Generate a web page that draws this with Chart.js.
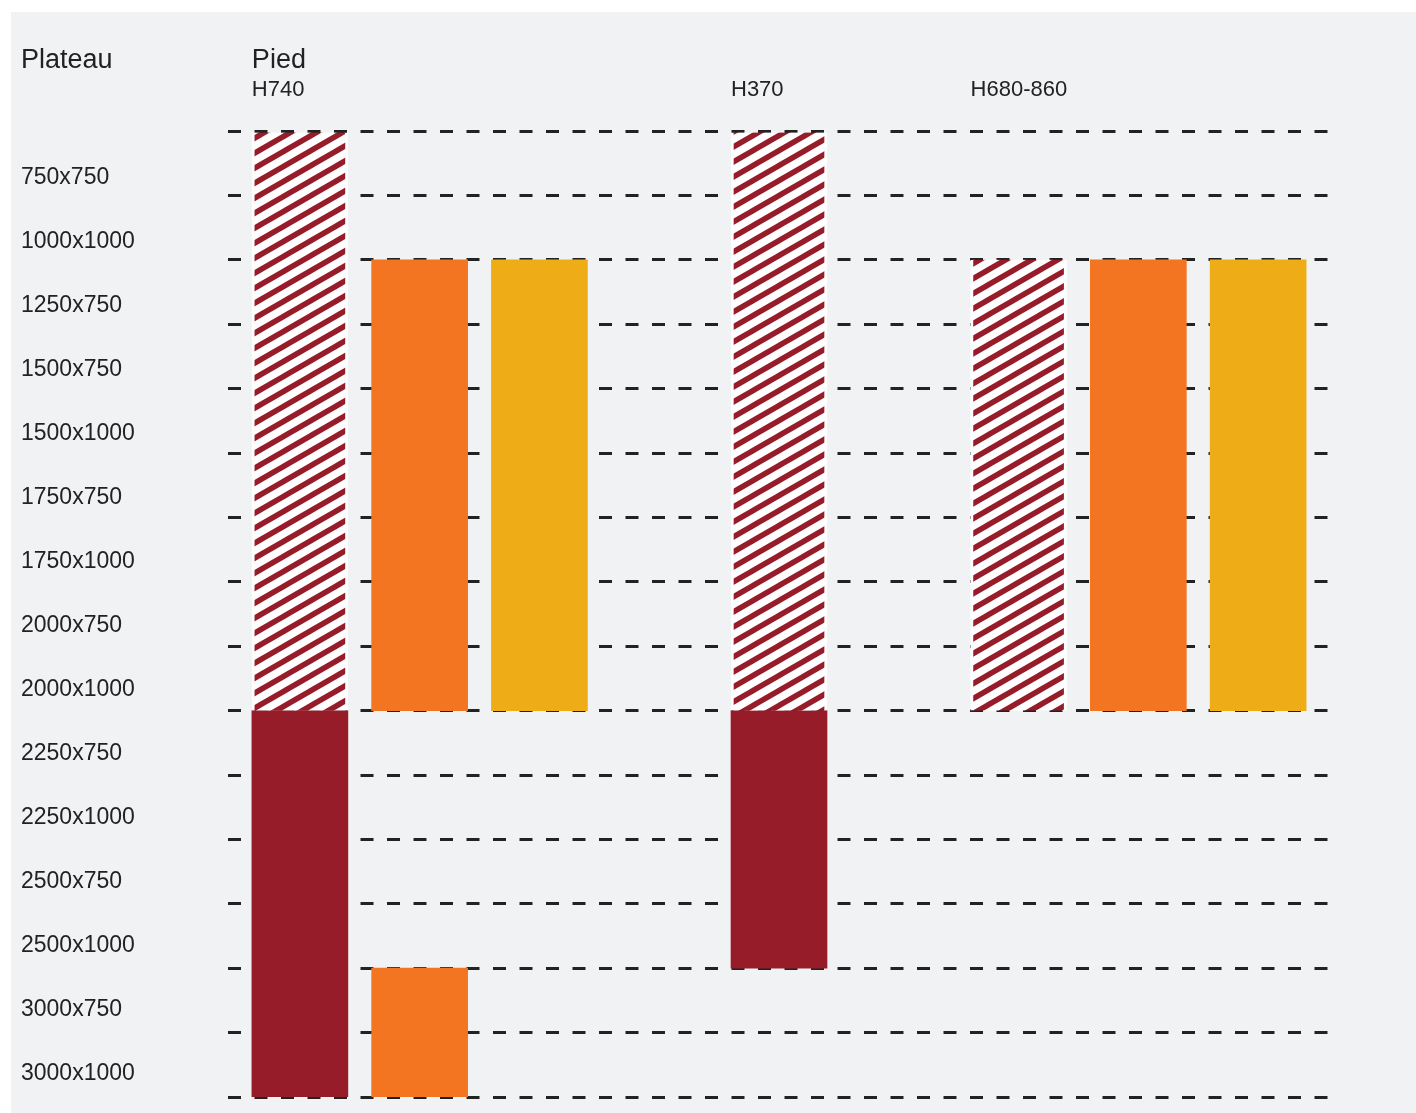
<!DOCTYPE html>
<html>
<head>
<meta charset="utf-8">
<script src="https://cdn.jsdelivr.net/npm/chart.js@4.4.1/dist/chart.umd.min.js"></script>
<style>
  html, body { margin: 0; padding: 0; background: #fff; overflow: hidden; }
  canvas { display: block; }
</style>
</head>
<body>
<canvas id="plateauChart" width="1416" height="1113"></canvas>
<script>
// rows (top to bottom) = table top sizes
const sizeLabels = [
  "750x750", "1000x1000", "1250x750", "1500x750", "1500x1000",
  "1750x750", "1750x1000", "2000x750", "2000x1000", "2250x750",
  "2250x1000", "2500x750", "2500x1000", "3000x750", "3000x1000"
];
const gridRows = sizeLabels.map((_, i) => i).concat([sizeLabels.length]);

// columns: 0..8, header text shown above some of them
const headCols = [0, 4, 6];
const headLabels = ["H740", "H370", "H680-860"];

// bars: column index + [first row, last row]
const hatchCols = [0, 4, 6];
const hatchRanges = [[0, 9], [0, 9], [2, 9]];
const redCols = [0, 4];
const redRanges = [[9, 15], [9, 13]];
const orangeCols = [1, 1, 7];
const orangeRanges = [[2, 9], [13, 15], [2, 9]];
const yellowCols = [2, 8];
const yellowRanges = [[2, 9], [2, 9]];

const RED = "#971c29";
const ORANGE = "#f37521";
const YELLOW = "#eeac16";
const INK = "#222222";
const BAR_W = 96;

function toBars(cols, ranges) {
  return cols.map((c, i) => ({ x: c, y: ranges[i] }));
}

// diagonal red stripes on white, tile 26x15
function makeHatch() {
  const w = 26, h = 15;
  const tile = document.createElement("canvas");
  tile.width = w;
  tile.height = h;
  const t = tile.getContext("2d");
  t.fillStyle = "#ffffff";
  t.fillRect(0, 0, w, h);
  t.strokeStyle = RED;
  t.lineWidth = 5.5;
  for (let k = -2; k <= 2; k++) {
    t.beginPath();
    t.moveTo(-w, 2 * h + h * k);
    t.lineTo(2 * w, -h + h * k);
    t.stroke();
  }
  return t.createPattern(tile, "repeat");
}

const bgPlugin = {
  id: "bg",
  beforeDraw(chart) {
    const c = chart.ctx;
    c.save();
    c.fillStyle = "#ffffff";
    c.fillRect(0, 0, chart.width, chart.height);
    c.fillStyle = "#f1f2f4";
    c.fillRect(11, 12, chart.width - 11, chart.height - 12);
    c.restore();
  }
};

const headerPlugin = {
  id: "headers",
  afterDraw(chart) {
    const c = chart.ctx;
    const x = chart.scales.x;
    c.save();
    c.fillStyle = INK;
    c.textBaseline = "alphabetic";
    c.textAlign = "left";
    c.font = "27px 'Liberation Sans', Arial, sans-serif";
    c.fillText("Plateau", 21, 68);
    c.fillText("Pied", x.getPixelForValue(0) - BAR_W / 2, 68);
    c.font = "22px 'Liberation Sans', Arial, sans-serif";
    headCols.forEach((col, i) => {
      c.fillText(headLabels[i], x.getPixelForValue(col) - BAR_W / 2, 96);
    });
    c.restore();
  }
};

const barBase = { grouped: false, barThickness: BAR_W, borderWidth: 0, borderSkipped: false };

new Chart(document.getElementById("plateauChart"), {
  type: "bar",
  data: {
    datasets: [
      Object.assign({ label: "hatch", data: toBars(hatchCols, hatchRanges), backgroundColor: makeHatch(),
        borderColor: "#ffffff", borderWidth: { left: 3, right: 3, top: 0, bottom: 0 } }, { grouped: false, barThickness: BAR_W, borderSkipped: false }),
      Object.assign({ label: "red", data: toBars(redCols, redRanges), backgroundColor: RED }, barBase),
      Object.assign({ label: "orange", data: toBars(orangeCols, orangeRanges), backgroundColor: ORANGE }, barBase),
      Object.assign({ label: "yellow", data: toBars(yellowCols, yellowRanges), backgroundColor: YELLOW }, barBase)
    ]
  },
  options: {
    responsive: false,
    devicePixelRatio: 1,
    animation: false,
    layout: { padding: { left: 21, top: 131, right: 86, bottom: 16 } },
    plugins: { legend: { display: false }, tooltip: { enabled: false } },
    scales: {
      x: { type: "linear", min: -0.6, max: 8.6, offset: false, display: false },
      y: {
        type: "linear", reverse: true, min: 0, max: 15, position: "left",
        afterBuildTicks: s => { s.ticks = gridRows.map(v => ({ value: v })); },
        afterFit: s => { s.width = 0; },
        ticks: { display: false },
        border: { display: false, dash: [13, 13.5] },
        grid: { color: INK, lineWidth: 3, drawTicks: false }
      },
      // label column: slightly tighter spacing than the grid rows
      yLabels: {
        type: "linear", reverse: true, min: -0.726, max: 14.359, position: "left",
        afterBuildTicks: s => { s.ticks = sizeLabels.map((_, i) => ({ value: i })); },
        afterFit: s => { s.width = 207; },
        border: { display: false },
        grid: { display: false },
        ticks: {
          autoSkip: false, crossAlign: "far", padding: 0, color: INK,
          font: { family: "'Liberation Sans', Arial, sans-serif", size: 23 },
          callback: (v, i) => sizeLabels[i]
        }
      }
    }
  },
  plugins: [bgPlugin, headerPlugin]
});
</script>
</body>
</html>
